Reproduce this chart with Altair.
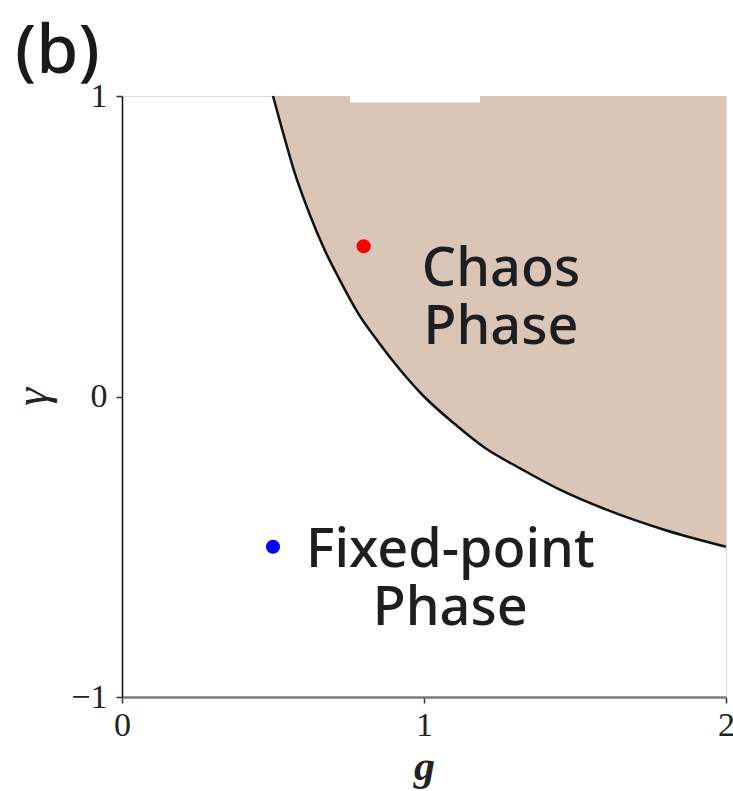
import altair as alt
import pandas as pd

# Phase boundary between the fixed-point and chaotic regimes (g, gamma)
boundary_g = [0.50, 0.53, 0.57, 0.62, 0.67, 0.72, 0.78, 0.85, 0.92, 1.00, 1.10,
              1.20, 1.32, 1.45, 1.60, 1.80, 2.00]
boundary_gamma = [1.00, 0.89, 0.75, 0.61, 0.49, 0.39, 0.28, 0.18, 0.09, 0.00, -0.09,
                  -0.17, -0.24, -0.31, -0.375, -0.445, -0.50]

# Sample parameter points
point_g = [0.8, 0.5]
point_gamma = [0.5, -0.5]
point_color = ["#ff0000", "#0000ff"]

# Region labels (two lines each, anchored at the first line)
label_text = ["Chaos\nPhase", "Fixed-point\nPhase"]
label_g = [1.255, 1.087]
label_gamma = [0.42, -0.515]

x_ticks = [0.0, 1.0, 2.0]
y_ticks = [-1.0, 0.0, 1.0]

boundary = pd.DataFrame({"g": boundary_g, "gamma": boundary_gamma})
points = pd.DataFrame({"g": point_g, "gamma": point_gamma, "c": point_color})
labels = pd.DataFrame({"t": label_text, "g": label_g, "gamma": label_gamma})

serif = "Liberation Serif"
sans = "Noto Sans"

x_scale = alt.Scale(domain=[0, 2], nice=False, zero=False)
y_scale = alt.Scale(domain=[-1, 1], nice=False, zero=False)

x_axis = alt.Axis(
    values=x_ticks, format=".0f", title="g", grid=False, labelFont=serif, labelFontSize=34,
    labelColor="#222", tickSize=6, tickColor="#333", tickWidth=1.5,
    labelOverlap=False, labelFlush=False,
    domainColor="#7a7a7a", domainWidth=2.5, labelPadding=5,
    titleFont=serif, titleFontSize=42, titleFontStyle="italic", titleFontWeight="bold",
    titleColor="#222", titlePadding=4,
)
y_axis = alt.Axis(
    values=y_ticks, format=".0f", title="γ", grid=False, labelFont=serif, labelFontSize=34,
    labelColor="#222", tickSize=6, tickColor="#333", tickWidth=1.5,
    labelOverlap=False, labelFlush=False,
    domainColor="#111", domainWidth=1.5, labelPadding=9,
    titleFont=serif, titleFontSize=46, titleFontStyle="italic", titleFontWeight="normal",
    titleColor="#222", titlePadding=14,
)

base = alt.Chart(boundary)

chaos_fill = base.mark_area(color="#D9C6B7", opacity=1, interpolate="monotone").encode(
    x=alt.X("g:Q", scale=x_scale, axis=x_axis),
    y=alt.Y("gamma:Q", scale=y_scale, axis=y_axis),
    y2=alt.datum(1),
)

boundary_line = base.mark_line(color="#111", strokeWidth=2.5, interpolate="monotone").encode(
    x=alt.X("g:Q", scale=x_scale),
    y=alt.Y("gamma:Q", scale=y_scale),
)

dots = alt.Chart(points).mark_circle(size=200, opacity=1).encode(
    x=alt.X("g:Q", scale=x_scale),
    y=alt.Y("gamma:Q", scale=y_scale),
    color=alt.Color("c:N", scale=None),
)

region_text = alt.Chart(labels).mark_text(
    font=sans, fontSize=54, fontWeight=500, color="#1e1e1e", align="center",
    baseline="middle", lineBreak="\n", lineHeight=58,
).encode(
    x=alt.X("g:Q", scale=x_scale),
    y=alt.Y("gamma:Q", scale=y_scale),
    text="t:N",
)

# White strip over the top edge of the frame
top_patch = alt.Chart(pd.DataFrame({"k": [0]})).mark_rect(color="white").encode(
    x=alt.value(228), x2=alt.value(358), y=alt.value(-30), y2=alt.value(6.5)
)

panel_tag = alt.Chart(pd.DataFrame({"t": ["(b)"]})).mark_text(
    font=sans, fontSize=68, fontWeight=500, color="#1a1a1a", align="left", baseline="alphabetic"
).encode(x=alt.value(-107), y=alt.value(-23), text="t:N")

chart = alt.layer(
    chaos_fill, boundary_line, dots, region_text, top_patch, panel_tag
).properties(
    width=604, height=601,
    padding={"left": 122, "top": 96, "right": 7, "bottom": 94},
    autosize=alt.AutoSizeParams(type="none"),
).configure_view(
    stroke="#7a7a7a", strokeWidth=2.5
).configure(background="white")

chart.save("out.html", embed_options={"renderer": "svg", "actions": False})
